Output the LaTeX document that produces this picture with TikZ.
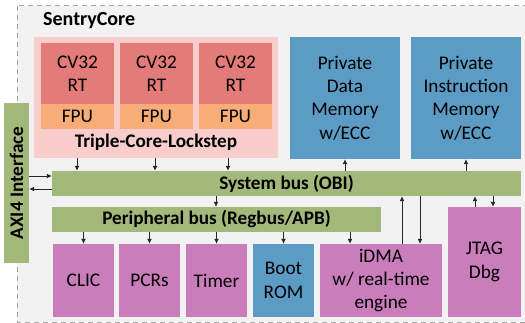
\documentclass[tikz,border=0pt]{standalone}
\usepackage{fontspec}
\setmainfont{Carlito}
\usetikzlibrary{arrows.meta,calc}
\definecolor{bggray}{HTML}{F2F2F2}
\definecolor{dashgray}{HTML}{A6A6A6}
\definecolor{lockpink}{HTML}{F8CDCC}
\definecolor{corered}{HTML}{E37C78}
\definecolor{fpuorange}{HTML}{F8AC78}
\definecolor{memblue}{HTML}{5B9BC4}
\definecolor{busgreen}{HTML}{A3B97B}
\definecolor{perimag}{HTML}{C97DBB}
\definecolor{arrowgray}{HTML}{262626}
\tikzset{
  blk/.style={draw=none, inner sep=0pt, align=center, text=black,
    font=\fontsize{19.3}{23.3}\selectfont},
  boldlbl/.style={inner sep=0pt, font=\fontsize{19.2}{22}\selectfont\bfseries},
  arr/.style={draw=arrowgray, line width=0.9pt, -{Latex[length=5pt,width=5pt]}},
}
\begin{document}
\begin{tikzpicture}[x=1pt,y=-1pt]
\useasboundingbox (0,0) rectangle (525,323);
% outer frame
\draw[dashgray, dash pattern=on 5pt off 4pt, line width=1pt, fill=bggray] (17,6) rectangle (528,322);
\node[boldlbl, anchor=west, font=\fontsize{20}{22}\selectfont\bfseries] (title) at (43,21) {SentryCore};
% lockstep
\node[blk, fill=lockpink, minimum width=244pt, minimum height=121pt] (lock) at (156,97.5) {};
\node[blk, fill=corered, minimum width=73pt, minimum height=61pt] (c1) at (77.5,73.5) {CV32\\RT};
\node[blk, fill=corered, minimum width=73pt, minimum height=61pt] (c2) at (156.5,73.5) {CV32\\RT};
\node[blk, fill=corered, minimum width=73pt, minimum height=61pt] (c3) at (235.5,73.5) {CV32\\RT};
\node[blk, fill=fpuorange, minimum width=73pt, minimum height=25pt] (f1) at (77.5,116.5) {FPU};
\node[blk, fill=fpuorange, minimum width=73pt, minimum height=25pt] (f2) at (156.5,116.5) {FPU};
\node[blk, fill=fpuorange, minimum width=73pt, minimum height=25pt] (f3) at (235.5,116.5) {FPU};
\node[boldlbl] (locklbl) at (156,142) {Triple-Core-Lockstep};
% memories
\node[blk, fill=memblue, minimum width=110pt, minimum height=122pt] (pdm) at (345,98) {Private\\Data\\Memory\\w/ECC};
\node[blk, fill=memblue, minimum width=110pt, minimum height=122pt] (pim) at (466,98) {Private\\Instruction\\Memory\\w/ECC};
% buses
\node[blk, fill=busgreen, minimum width=469pt, minimum height=25pt] (sys) at (286.5,183.5) {};
\node[boldlbl] at (sys) {System bus (OBI)};
\node[blk, fill=busgreen, minimum width=329pt, minimum height=25pt] (per) at (216.5,219.5) {};
\node[boldlbl] at (per) {Peripheral bus (Regbus/APB)};
\node[blk, fill=busgreen, minimum width=25pt, minimum height=160pt] (axi) at (16.5,183) {};
\node[boldlbl, rotate=90] at (axi) {AXI4 Interface};
% peripherals
\node[blk, fill=perimag, minimum width=61pt, minimum height=73pt] (clic) at (83.5,280.5) {CLIC};
\node[blk, fill=perimag, minimum width=61pt, minimum height=73pt] (pcr) at (149.5,280.5) {PCRs};
\node[blk, fill=perimag, minimum width=61pt, minimum height=73pt] (tim) at (216.5,280.5) {Timer};
\node[blk, fill=memblue, minimum width=61pt, minimum height=73pt] (rom) at (283.5,280.5) {Boot\\ROM};
\node[blk, fill=perimag, minimum width=122pt, minimum height=73pt] (dma) at (381,280.5) {iDMA\\w/ real-time\\engine};
\node[blk, fill=perimag, minimum width=73pt, minimum height=110pt] (jtag) at (484.5,262) {JTAG\\Dbg};
% x positions
\coordinate (x1) at (77,0);
\coordinate (x2) at (155,0);
\coordinate (x3) at (228,0);
\coordinate (xp) at (216,0);
\coordinate (xd) at (350,0);
\coordinate (xdu) at (402,0);
\coordinate (xdd) at (420,0);
\coordinate (xju) at (475,0);
\coordinate (xjd) at (493,0);
\coordinate (ya) at (0,176);
\coordinate (yb) at (0,189);
% arrows
\draw[arr] (lock.south -| x1) -- (sys.north -| x1);
\draw[arr] (lock.south -| x2) -- (sys.north -| x2);
\draw[arr] (lock.south -| x3) -- (sys.north -| x3);
\draw[arr] (sys.north -| pdm) -- (pdm.south);
\draw[arr] (sys.north -| pim) -- (pim.south);
\draw[arr] (axi.east |- ya) -- (sys.west |- ya);
\draw[arr] (sys.west |- yb) -- (axi.east |- yb);
\draw[arr] (sys.south -| xp) -- (per.north -| xp);
\draw[arr] (per.south -| clic) -- (clic.north);
\draw[arr] (per.south -| pcr) -- (pcr.north);
\draw[arr] (per.south -| tim) -- (tim.north);
\draw[arr] (per.south -| rom) -- (rom.north);
\draw[arr] (per.south -| xd) -- (dma.north -| xd);
\draw[arr] (dma.north -| xdu) -- (sys.south -| xdu);
\draw[arr] (sys.south -| xdd) -- (dma.north -| xdd);
\draw[arr] (jtag.north -| xju) -- (sys.south -| xju);
\draw[arr] (sys.south -| xjd) -- (jtag.north -| xjd);
\end{tikzpicture}
\end{document}
